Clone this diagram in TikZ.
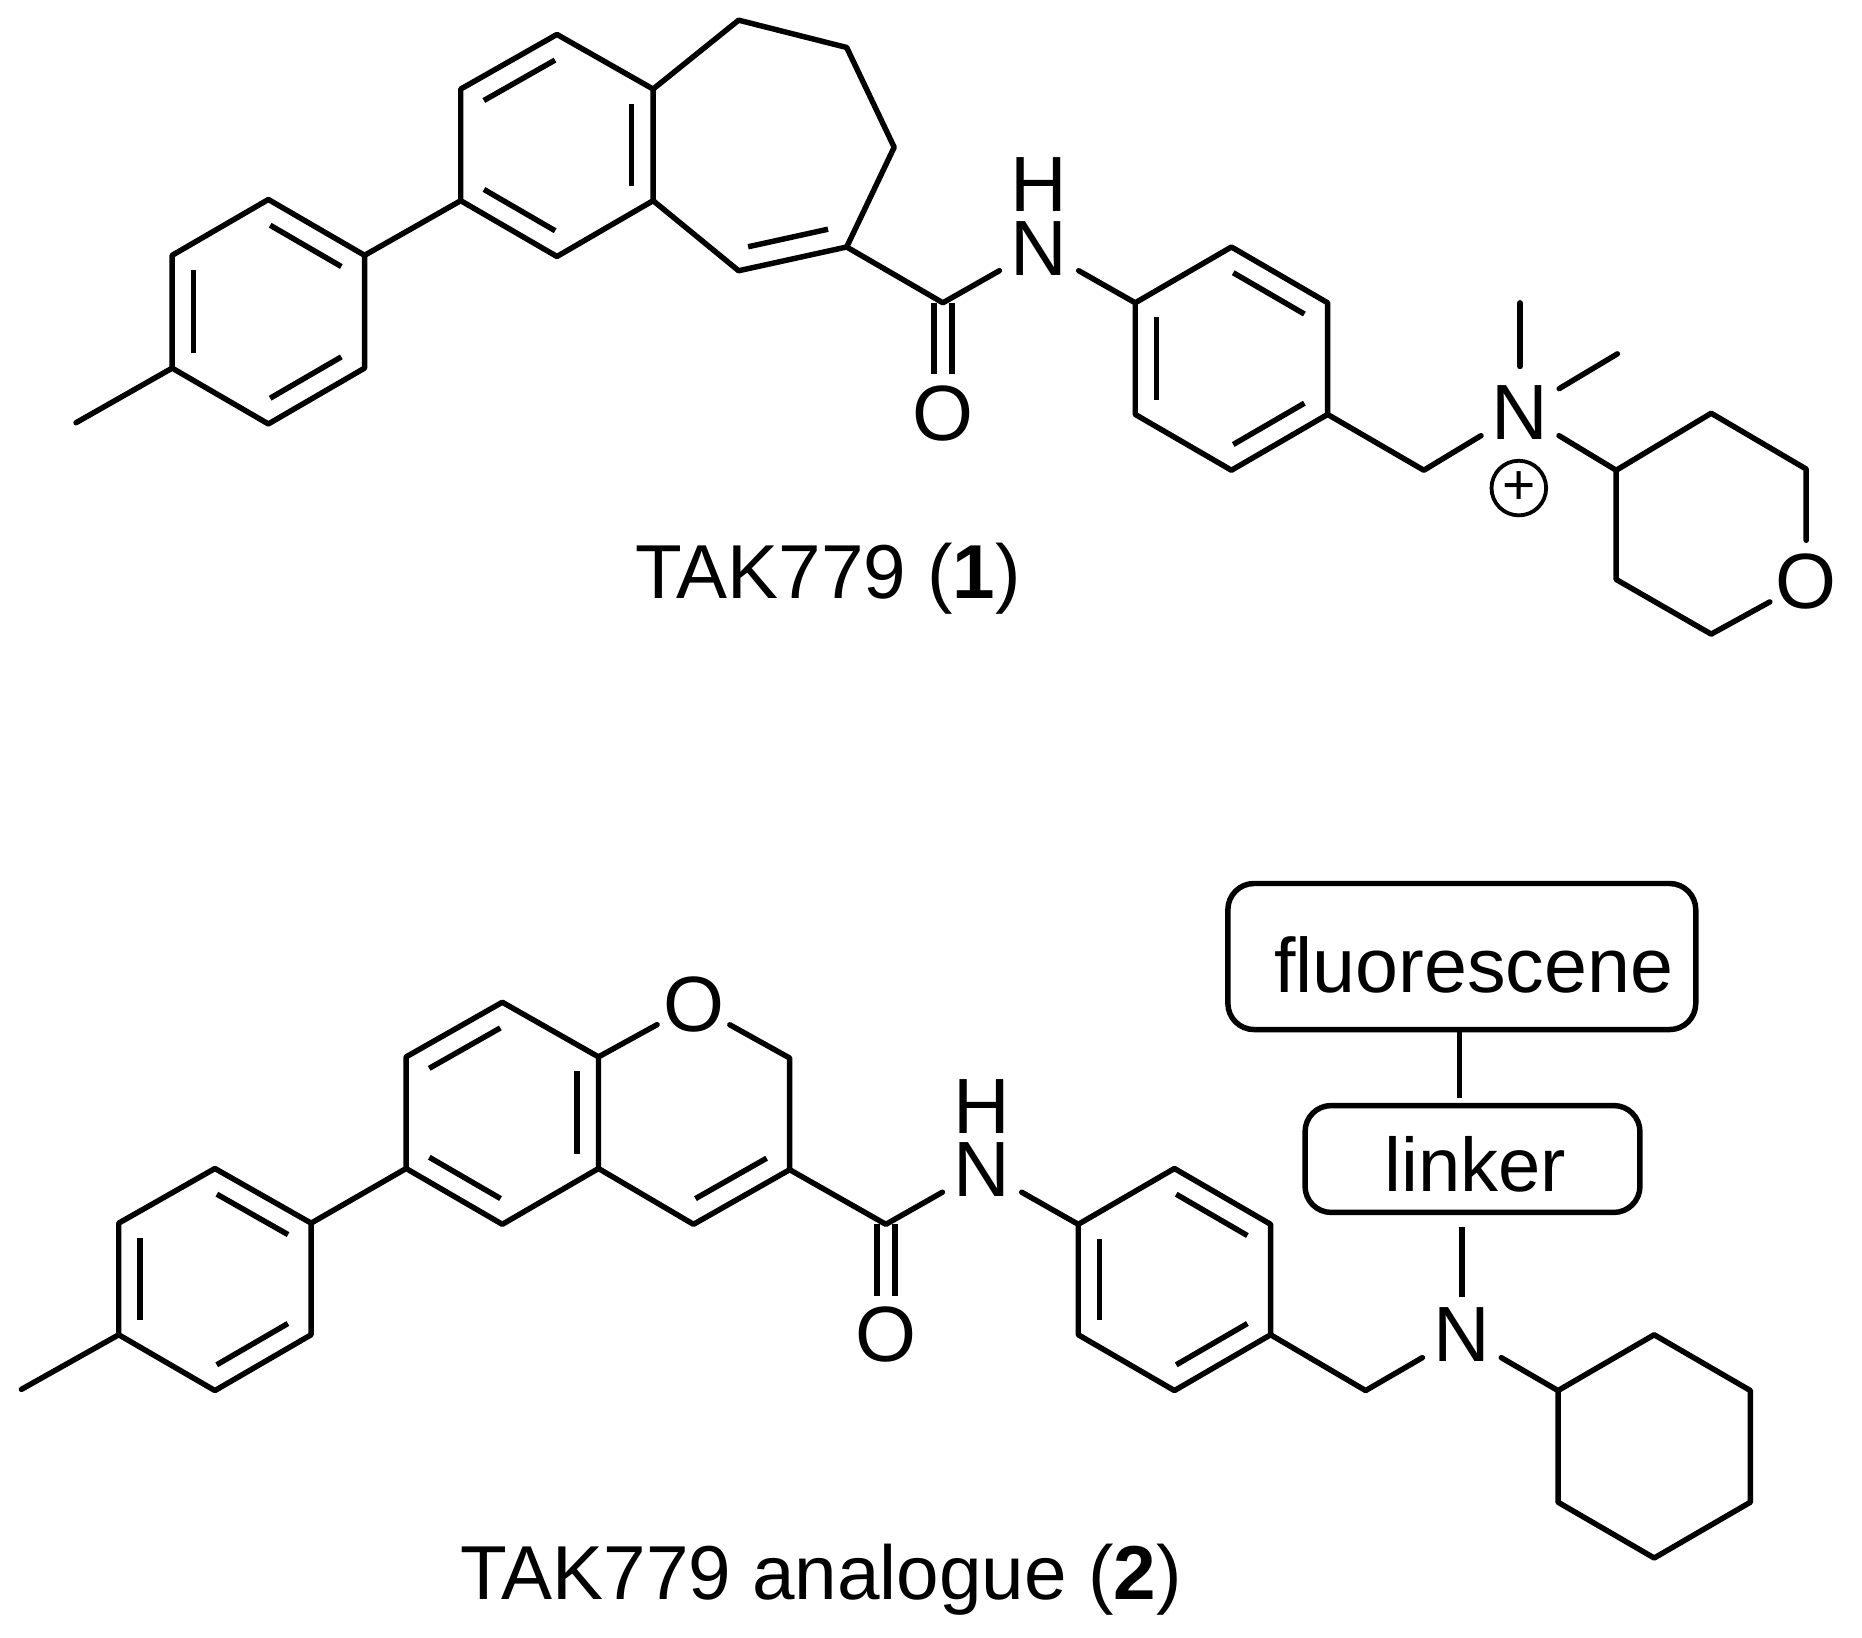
\documentclass[tikz,border=0pt]{standalone}
\usepackage{fontspec}
\setmainfont{Liberation Sans}
\usetikzlibrary{calc}
\tikzset{
  x=0.5pt,y=-0.5pt,
  bond/.style={line width=2.3pt,line cap=round,line join=round,black},
  atom/.style={circle,inner sep=0pt,minimum size=38pt,font=\fontsize{33}{33}\selectfont},
  oxygen/.style={atom,minimum size=31pt},
  hatom/.style={inner sep=0pt,font=\fontsize{33}{33}\selectfont},
  caption/.style={inner sep=0pt,font=\fontsize{32.2}{32.2}\selectfont},
  groupbox/.style={draw,line width=2.3pt,rounded corners=11pt,inner sep=0pt},
  chargering/.style={draw,circle,line width=1.6pt,inner sep=0pt,minimum size=23pt,font=\fontsize{24}{24}\selectfont}
}
\newcommand\innerbond[2]{\draw[bond,line cap=butt] ($(#1)!.13!(#2)!9pt!-90:(#2)$) -- ($(#2)!.13!(#1)!9pt!90:(#1)$);}
\newcommand\outerdouble[2]{\draw[bond,line cap=butt,shorten >=16.5pt] ($(#1)!3.8pt!90:(#2)$) -- ($(#2)!3.8pt!-90:(#1)$);\draw[bond,line cap=butt,shorten >=16.5pt] ($(#1)!3.8pt!-90:(#2)$) -- ($(#2)!3.8pt!90:(#1)$);}
\newcommand\chain[1]{\draw[bond] #1;}
\begin{document}
\begin{tikzpicture}
\useasboundingbox (0,0) rectangle (1568,1379);
% ---------- molecule 1 ----------
\coordinate (me1) at (64,356);
\coordinate (a1) at (145,310); \coordinate (a2) at (145,215); \coordinate (a3) at (226,168);
\coordinate (a4) at (307,215); \coordinate (a5) at (307,310); \coordinate (a6) at (226,357);
\coordinate (b1) at (388,169); \coordinate (b2) at (388,75); \coordinate (b3) at (469,29);
\coordinate (b4) at (550,75); \coordinate (b5) at (550,169); \coordinate (b6) at (469,216);
\coordinate (s1) at (622,17); \coordinate (s2) at (713,40); \coordinate (s3) at (753,124);
\coordinate (s4) at (713,208); \coordinate (s5) at (622,228);
\coordinate (co1) at (794,255);
\node[atom] (o1) at (794,348) {O};
\node[atom] (n1) at (875,209) {N};
\node[hatom] (h1) at (875,155) {H};
\coordinate (c1) at (956,255); \coordinate (c2) at (1037,208); \coordinate (c3) at (1118,255);
\coordinate (c4) at (1118,349); \coordinate (c5) at (1037,396); \coordinate (c6) at (956,349);
\coordinate (ch1) at (1199,396);
\node[atom] (np) at (1280,347) {N};
\coordinate (me2) at (1280,255); \coordinate (me3) at (1362,298);
\node[chargering] (plus) at (1279,411) {+};
\coordinate (p1) at (1361,396); \coordinate (p2) at (1441,348); \coordinate (p3) at (1521,395);
\node[oxygen] (p4) at (1521,490) {O};
\coordinate (p5) at (1441,534); \coordinate (p6) at (1361,488);
\outerdouble{co1}{o1}
\chain{(me1) -- (a1) -- (a2) -- (a3) -- (a4) -- (a5) -- (a6) -- (a1)}
\chain{(a4) -- (b1) -- (b2) -- (b3) -- (b4) -- (b5) -- (b6) -- (b1)}
\chain{(b4) -- (s1) -- (s2) -- (s3) -- (s4) -- (s5) -- (b5)}
\chain{(s4) -- (co1) -- (n1) -- (c1) -- (c2) -- (c3) -- (c4) -- (c5) -- (c6) -- (c1)}
\chain{(c4) -- (ch1) -- (np) -- (p1) -- (p2) -- (p3) -- (p4) -- (p5) -- (p6) -- (p1)}
\chain{(np) -- (me2)}
\chain{(np) -- (me3)}
\innerbond{a1}{a2}\innerbond{a3}{a4}\innerbond{a5}{a6}
\innerbond{b2}{b3}\innerbond{b4}{b5}\innerbond{b6}{b1}
\innerbond{s4}{s5}
\innerbond{c2}{c3}\innerbond{c4}{c5}\innerbond{c6}{c1}
\node[caption] (cap1) at (697.5,487) {TAK779 (\textbf{1})};
% ---------- molecule 2 ----------
\coordinate (me4) at (18,1170);
\coordinate (d1) at (100,1124); \coordinate (d2) at (100,1030); \coordinate (d3) at (181,984);
\coordinate (d4) at (262,1030); \coordinate (d5) at (262,1124); \coordinate (d6) at (181,1171);
\coordinate (e1) at (342,984); \coordinate (e2) at (342,890); \coordinate (e3) at (423,844);
\coordinate (e4) at (504,890); \coordinate (e5) at (504,984); \coordinate (e6) at (423,1031);
\node[oxygen] (o2) at (584,846) {O};
\coordinate (r1) at (665,891); \coordinate (r2) at (665,985); \coordinate (r3) at (584,1031);
\coordinate (co2) at (746,1031);
\node[atom] (o3) at (746,1124) {O};
\node[atom] (n2) at (827,985) {N};
\node[hatom] (h2) at (827,932) {H};
\coordinate (f1) at (908,1031); \coordinate (f2) at (989,984); \coordinate (f3) at (1070,1031);
\coordinate (f4) at (1070,1124); \coordinate (f5) at (989,1171); \coordinate (f6) at (908,1124);
\coordinate (ch2) at (1150,1171);
\node[atom] (n3) at (1231,1124) {N};
\coordinate (g1) at (1312,1171); \coordinate (g2) at (1393,1124); \coordinate (g3) at (1474,1171);
\coordinate (g4) at (1474,1265); \coordinate (g5) at (1393,1312); \coordinate (g6) at (1312,1265);
\node[groupbox,minimum width=141pt,minimum height=45pt,text height=27pt,text depth=0pt,font=\fontsize{32}{32}\selectfont] (linker) at (1240,976) {\hspace*{2.5pt}linker};
\node[groupbox,minimum width=197pt,minimum height=61.5pt,text height=30.5pt,text depth=0pt,font=\fontsize{32.5}{32.5}\selectfont] (fluo) at (1231,805.5) {\hspace*{10pt}fluorescene};
\coordinate (linkerend) at (1229,925);
\coordinate (nlinktop) at (1231,1033);
\coordinate (nlinkbot) at (1231,1092);
\outerdouble{co2}{o3}
\chain{(me4) -- (d1) -- (d2) -- (d3) -- (d4) -- (d5) -- (d6) -- (d1)}
\chain{(d4) -- (e1) -- (e2) -- (e3) -- (e4) -- (e5) -- (e6) -- (e1)}
\chain{(e4) -- (o2) -- (r1) -- (r2) -- (r3) -- (e5)}
\chain{(r2) -- (co2) -- (n2) -- (f1) -- (f2) -- (f3) -- (f4) -- (f5) -- (f6) -- (f1)}
\chain{(f4) -- (ch2) -- (n3) -- (g1) -- (g2) -- (g3) -- (g4) -- (g5) -- (g6) -- (g1)}
\draw[bond,line cap=butt] (nlinktop) -- (nlinkbot);
\draw[bond,line cap=butt] (fluo.south -| linkerend) -- (linkerend);
\innerbond{d1}{d2}\innerbond{d3}{d4}\innerbond{d5}{d6}
\innerbond{e2}{e3}\innerbond{e4}{e5}\innerbond{e6}{e1}
\innerbond{r2}{r3}
\innerbond{f2}{f3}\innerbond{f4}{f5}\innerbond{f6}{f1}
\node[caption] (cap2) at (691.5,1330) {TAK779 analogue (\textbf{2})};
\end{tikzpicture}
\end{document}
